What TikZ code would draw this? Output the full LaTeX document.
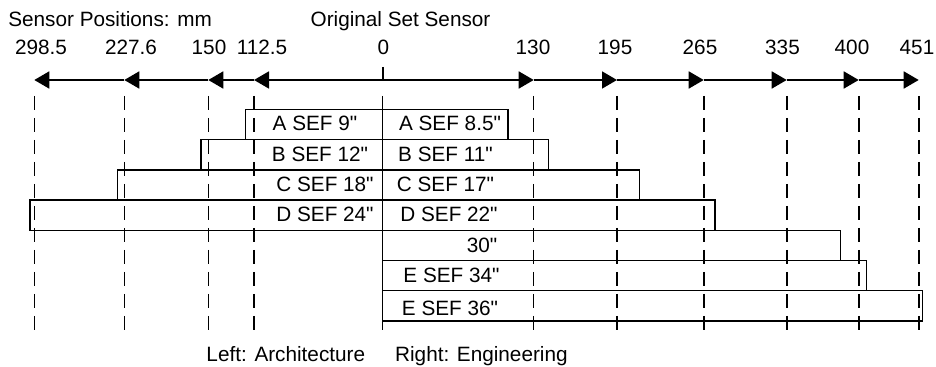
\documentclass[tikz,border=0pt]{standalone}
\usepackage{fontspec}
\newfontfamily\arialfont{Liberation Sans}
\usetikzlibrary{arrows.meta}

\begin{document}
\begin{tikzpicture}[x=0.02cm,y=-0.02cm,font=\arialfont\fontsize{11.8}{13}\selectfont,
  >={Triangle[length=3mm,width=3.4mm]},
  txt/.style={anchor=base,inner sep=0pt},
  guide/.style={line width=0.9pt,dash pattern=on 0.28cm off 0.16cm},
  bar/.style={draw,line width=0.8pt}]
\useasboundingbox (0,0) rectangle (936,367);
% headings
\node[txt,anchor=base west] (hpos) at (8,26.7) {Sensor Positions: mm};
\node[txt] (horig) at (400.5,26.7) {Original Set Sensor};
% positions, left side
\node[txt] (n2985) at (41,55) {298.5};
\node[txt] (n2276) at (131,55) {227.6};
\node[txt] (n150) at (209,55) {150};
\node[txt] (n1125) at (262,55) {112.5};
\node[txt] (n0) at (383.5,55) {0};
% positions, right side
\node[txt] (n130) at (533,55) {130};
\node[txt] (n195) at (615,55) {195};
\node[txt] (n265) at (700,55) {265};
\node[txt] (n335) at (782.5,55) {335};
\node[txt] (n400) at (852,55) {400};
\node[txt] (n451) at (917,55) {451};
% axis
\coordinate (o) at (382.7,80);
\coordinate (l1125) at (254,80);
\coordinate (l150) at (208.3,80);
\coordinate (l2276) at (124.3,80);
\coordinate (l2985) at (34.3,80);
\coordinate (r130) at (533.7,80);
\coordinate (r195) at (617,80);
\coordinate (r265) at (703.7,80);
\coordinate (r335) at (786.7,80);
\coordinate (r400) at (858.7,80);
\coordinate (r451) at (918.7,80);
\coordinate (otop) at (382.7,67);
\draw[line width=1pt] (otop) -- (o);
\draw[line width=1pt,->] (o) -- (l1125);
\draw[line width=1pt,->] (l1125) -- (l150);
\draw[line width=1pt,->] (l150) -- (l2276);
\draw[line width=1pt,->] (l2276) -- (l2985);
\draw[line width=1pt,->] (o) -- (r130);
\draw[line width=1pt,->] (r130) -- (r195);
\draw[line width=1pt,->] (r195) -- (r265);
\draw[line width=1pt,->] (r265) -- (r335);
\draw[line width=1pt,->] (r335) -- (r400);
\draw[line width=1pt,->] (r400) -- (r451);
% guide lines
\draw[guide] (34.3,96) -- (34.3,330);
\draw[guide] (124.3,96) -- (124.3,330);
\draw[guide] (208.3,96) -- (208.3,330);
\draw[guide] (254,96) -- (254,330);
\draw[guide] (382.7,96) -- (382.7,330);
\draw[guide] (533.7,96) -- (533.7,330);
\draw[guide] (617,96) -- (617,330);
\draw[guide] (703.7,96) -- (703.7,330);
\draw[guide] (786.7,96) -- (786.7,330);
\draw[guide] (858.7,96) -- (858.7,330);
\draw[guide] (918.7,96) -- (918.7,330);
% left boxes
\draw[bar] (245.7,109.5) rectangle (382.7,139.7);
\draw[bar] (201,139.7) rectangle (382.7,169.9);
\draw[bar] (117.3,169.9) rectangle (382.7,200.1);
\draw[bar] (30,200.1) rectangle (382.7,230.3);
% right boxes
\draw[bar] (382.7,109.5) rectangle (508,139.7);
\draw[bar] (382.7,139.7) rectangle (548.3,169.9);
\draw[bar] (382.7,169.9) rectangle (639.3,200.1);
\draw[bar] (382.7,200.1) rectangle (715,230.3);
\draw[bar] (382.7,230.3) rectangle (840.7,260.5);
\draw[bar] (382.7,260.5) rectangle (866.3,290.7);
\draw[bar] (382.7,290.7) rectangle (922.7,320.9);
% sizes
\node[txt] (a9) at (315,131) {A SEF 9"};
\node[txt] (a85) at (450,131) {A SEF 8.5"};
\node[txt] (b12) at (320,161.7) {B SEF 12"};
\node[txt] (b11) at (445.5,161.7) {B SEF 11"};
\node[txt] (c18) at (325,191.7) {C SEF 18"};
\node[txt] (c17) at (445.5,191.7) {C SEF 17"};
\node[txt] (d24) at (325,221.7) {D SEF 24"};
\node[txt] (d22) at (449,221.7) {D SEF 22"};
\node[txt] (s30) at (482,252.3) {30"};
\node[txt] (e34) at (451.5,282.7) {E SEF 34"};
\node[txt] (e36) at (450,316) {E SEF 36"};
% footer
\node[txt] (arch) at (285.8,361.7) {Left: Architecture};
\node[txt] (eng) at (481.4,361.7) {Right: Engineering};
\end{tikzpicture}
\end{document}
